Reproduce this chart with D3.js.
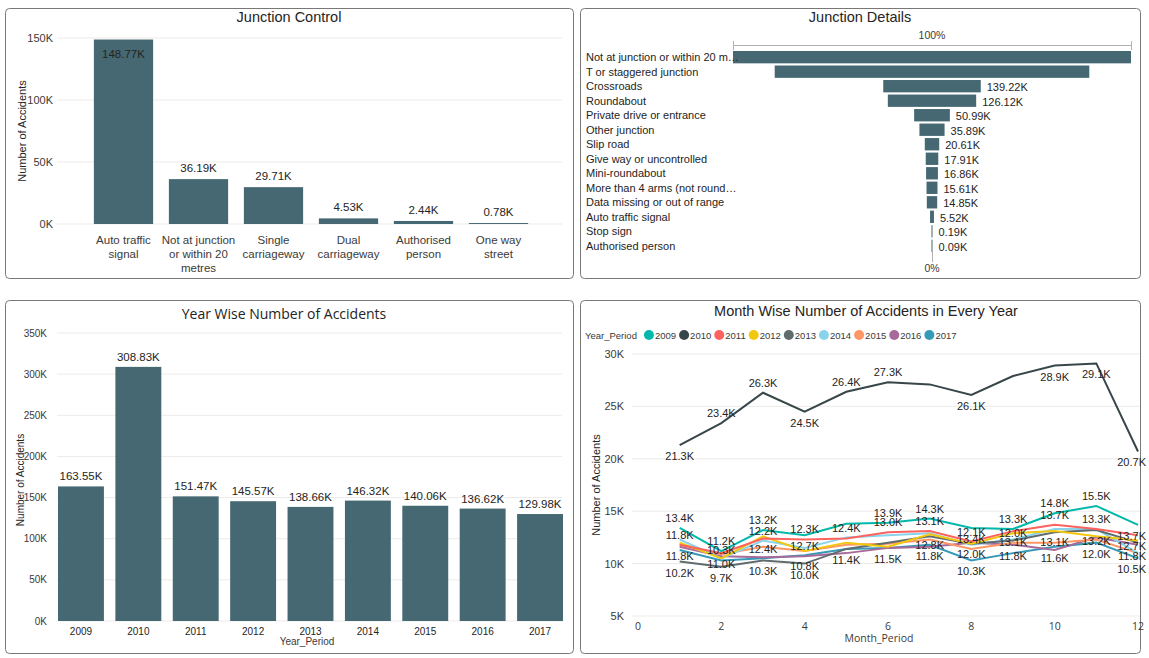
<!DOCTYPE html>
<html><head><meta charset="utf-8">
<script src="https://cdn.jsdelivr.net/npm/d3@7"></script>
<style>
body{margin:0;background:#fff;}
svg{display:block;}
text{font-family:"Liberation Sans",Arial,sans-serif;}
</style></head><body>
<svg id="c" width="1149" height="658"></svg>
<script>
// ---------- DATA ----------
const controlCategories = ["Auto traffic signal","Not at junction or within 20 metres","Single carriageway","Dual carriageway","Authorised person","One way street"];
const controlValues = [148.77,36.19,29.71,4.53,2.44,0.78];
const controlTicks = [0,50,100,150];

const detailCategories = ["Not at junction or within 20 metres","T or staggered junction","Crossroads","Roundabout","Private drive or entrance","Other junction","Slip road","Give way or uncontrolled","Mini-roundabout","More than 4 arms (not roundabout)","Data missing or out of range","Auto traffic signal","Stop sign","Authorised person"];
const detailValues = [568.2,449.1,139.22,126.12,50.99,35.89,20.61,17.91,16.86,15.61,14.85,5.52,0.19,0.09];

const years = ["2009","2010","2011","2012","2013","2014","2015","2016","2017"];
const yearValues = [163.55,308.83,151.47,145.57,138.66,146.32,140.06,136.62,129.98];
const yearTicks = [0,50,100,150,200,250,300,350];

const months = [1,2,3,4,5,6,7,8,9,10,11,12];
const m2009 = [13.4,11.2,13.2,12.7,13.8,13.9,14.3,13.4,13.3,14.8,15.5,13.7];
const m2010 = [21.3,23.4,26.3,24.5,26.4,27.3,27.1,26.1,27.9,28.9,29.1,20.7];
const m2011 = [11.8,11.0,12.4,12.3,12.4,13.0,13.1,12.1,13.1,13.7,13.3,12.7];
const m2012 = [12.0,10.5,12.6,11.2,12.0,11.6,12.8,11.9,12.9,13.1,12.6,12.2];
const m2013 = [10.2,9.7,10.3,10.0,11.4,12.0,12.6,11.9,12.2,13.0,13.2,12.0];
const m2014 = [12.3,10.5,12.2,11.5,12.5,12.7,12.9,11.8,12.3,13.3,13.3,11.0];
const m2015 = [11.8,10.9,11.6,11.2,11.8,11.9,12.3,11.4,12.0,12.0,12.3,11.0];
const m2016 = [11.6,10.7,10.6,10.7,11.0,11.5,11.6,12.0,11.8,11.3,12.5,11.8];
const m2017 = [11.3,10.3,10.5,10.8,11.4,11.5,11.8,10.3,11.0,11.6,12.0,10.5];
const monthSeries = [m2009,m2010,m2011,m2012,m2013,m2014,m2015,m2016,m2017];
const seriesColors = ["#01B8AA","#374649","#FD625E","#F2C80F","#5F6B6D","#8AD4EB","#FE9666","#A66999","#3599B8"];
const monthTicksY = [5,10,15,20,25,30];
const monthTicksX = [0,2,4,6,8,10,12];
// which points carry a visible data label: [year, month, above(a)/below(b)]
const monthLabels = [
 ["2010",1,"b"],["2010",2,"a"],["2010",3,"a"],["2010",4,"b"],["2010",5,"a"],["2010",6,"a"],["2010",8,"b"],["2010",10,"b"],["2010",11,"b"],["2010",12,"b"],
 ["2009",1,"a"],["2011",1,"a"],["2015",1,"b"],["2013",1,"b"],
 ["2009",2,"a"],["2017",2,"a"],["2011",2,"b"],["2013",2,"b"],
 ["2009",3,"a"],["2014",3,"a"],["2011",3,"b"],["2013",3,"b"],
 ["2011",4,"a"],["2009",4,"b"],["2017",4,"b"],["2013",4,"b"],
 ["2011",5,"a"],["2017",5,"b"],
 ["2009",6,"a"],["2011",6,"a"],["2017",6,"b"],
 ["2009",7,"a"],["2011",7,"a"],["2012",7,"b"],["2017",7,"b"],
 ["2011",8,"a"],["2009",8,"b"],["2016",8,"b"],["2017",8,"b"],
 ["2009",9,"a"],["2015",9,"a"],["2011",9,"b"],["2016",9,"b"],
 ["2009",10,"a"],["2011",10,"a"],["2012",10,"b"],["2017",10,"b"],
 ["2009",11,"a"],["2011",11,"a"],["2013",11,"b"],["2017",11,"b"],
 ["2009",12,"b"],["2011",12,"b"],["2016",12,"b"],["2017",12,"b"]
];

// ---------- STYLE ----------
const BAR = "#456872";
const TXT = "#252423";
const AX = "#3b3a39";
const GRID = "#EDEBE9";
const svg = d3.select("#c");

[[5,8,568,270],[580,8,560,270],[5,300,568,353],[580,300,560,353]].forEach(p=>{
  svg.append("rect").attr("x",p[0]+0.5).attr("y",p[1]+0.5).attr("width",p[2]).attr("height",p[3])
    .attr("rx",4).attr("fill","#fff").attr("stroke","#7a7876").attr("stroke-width",1);
});

function title(x,y,t,fam,size){
  svg.append("text").attr("x",x).attr("y",y).attr("text-anchor","middle").attr("dominant-baseline","central")
   .attr("font-size",size||14.5).attr("fill",TXT).style("font-family",fam||null).text(t);
}
const fmtK = v => (Math.round(v*100)/100).toFixed(2)+"K";

// ---------- CHART 1: Junction Control ----------
(function(){
  title(289,17,"Junction Control");
  const y = d3.scaleLinear().domain([0,150]).range([224,38]);
  const x = d3.scaleBand().domain(controlCategories).range([86,536]).paddingInner(0.21).paddingOuter(0.105);
  const g = svg.append("g");
  controlTicks.forEach(t=>{
    g.append("line").attr("x1",57).attr("x2",562).attr("y1",y(t)).attr("y2",y(t)).attr("stroke",GRID);
    g.append("text").attr("x",53).attr("y",y(t)).attr("text-anchor","end").attr("dominant-baseline","central")
      .attr("font-size",11).attr("fill",AX).text(t+"K");
  });
  g.append("text").attr("transform","translate(22,131) rotate(-90)").attr("text-anchor","middle")
    .attr("dominant-baseline","central").attr("font-size",11).attr("fill",TXT).text("Number of Accidents");
  controlCategories.forEach((c,i)=>{
    const v = controlValues[i];
    g.append("rect").attr("x",x(c)).attr("y",y(v)).attr("width",x.bandwidth()).attr("height",y(0)-y(v)).attr("fill",BAR);
    const inside = y(v)-20 < y(150);
    g.append("text").attr("x",x(c)+x.bandwidth()/2).attr("y",inside? y(v)+14 : y(v)-11)
      .attr("text-anchor","middle").attr("dominant-baseline","central").attr("font-size",11.5).attr("fill",TXT).text(fmtK(v));
    const t = g.append("text").attr("text-anchor","middle").attr("font-size",11.5).attr("fill",AX);
    const words = c.split(" "); let line=[]; let lines=[];
    const probe = g.append("text").attr("font-size",11.5);
    words.forEach(w=>{
      const test = line.concat([w]).join(" ");
      probe.text(test);
      if(probe.node().getComputedTextLength() > x.step() && line.length){ lines.push(line.join(" ")); line=[w]; }
      else line.push(w);
    });
    lines.push(line.join(" ")); probe.remove();
    lines.forEach((l,k)=>{
      t.append("tspan").attr("x",x(c)+x.bandwidth()/2).attr("y",240+k*14).attr("dominant-baseline","central").text(l);
    });
  });
})();

// ---------- CHART 2: Junction Details (funnel) ----------
(function(){
  title(860,17,"Junction Details");
  const cx = 932, half = 199;
  const w = d3.scaleLinear().domain([0,d3.max(detailValues)]).range([0,2*half]);
  const y = d3.scaleBand().domain(detailCategories).range([51,252]).paddingInner(0.15);
  const g = svg.append("g");
  g.append("text").attr("x",cx).attr("y",35).attr("text-anchor","middle").attr("dominant-baseline","central")
    .attr("font-size",10.5).attr("fill",AX).text("100%");
  g.append("line").attr("x1",cx-half).attr("x2",cx+half).attr("y1",45.5).attr("y2",45.5).attr("stroke","#b3b0ad");
  [cx-half,cx+half].forEach(xx=>g.append("line").attr("x1",xx+0.5).attr("x2",xx+0.5).attr("y1",41).attr("y2",50).attr("stroke","#b3b0ad"));
  g.append("line").attr("x1",cx+0.5).attr("x2",cx+0.5).attr("y1",252).attr("y2",262).attr("stroke","#b3b0ad");
  g.append("text").attr("x",cx).attr("y",268).attr("text-anchor","middle").attr("dominant-baseline","central")
    .attr("font-size",10.5).attr("fill",AX).text("0%");
  detailCategories.forEach((c,i)=>{
    const v = detailValues[i], bw = Math.max(w(v),1);
    const yc = y(c)+y.bandwidth()/2;
    g.append("rect").attr("x",cx-bw/2).attr("y",y(c)).attr("width",bw).attr("height",y.bandwidth()).attr("fill",BAR);
    const lab = g.append("text").attr("x",586).attr("y",yc).attr("dominant-baseline","central").attr("font-size",11).attr("fill",TXT).text(c);
    if(lab.node().getComputedTextLength()>153){
      let s=c; while(s.length && (lab.text(s+"…"), lab.node().getComputedTextLength()>153)) s=s.slice(0,-1);
    }
    const vt = g.append("text").attr("x",cx+bw/2+6).attr("y",yc+1).attr("dominant-baseline","central").attr("font-size",11).attr("fill",TXT).text(fmtK(v));
    if(cx+bw/2+6+vt.node().getComputedTextLength() > cx+half) vt.remove();
  });
})();

// ---------- CHART 3: Year wise ----------
(function(){
  title(284,313,"Year Wise Number of Accidents","'Open Sans'",14);
  const y = d3.scaleLinear().domain([0,350]).range([621,333]);
  const x = d3.scaleBand().domain(years).range([58,563]).paddingInner(0.2).paddingOuter(0);
  const g = svg.append("g");
  yearTicks.forEach(t=>{
    g.append("line").attr("x1",57).attr("x2",562).attr("y1",y(t)).attr("y2",y(t)).attr("stroke",GRID);
    g.append("text").attr("x",47).attr("y",y(t)).attr("text-anchor","end").attr("dominant-baseline","central")
      .attr("font-size",10).attr("fill",AX).text(t+"K");
  });
  g.append("text").attr("transform","translate(20,480) rotate(-90)").attr("text-anchor","middle")
    .attr("dominant-baseline","central").attr("font-size",10).attr("fill",TXT).text("Number of Accidents");
  years.forEach((yr,i)=>{
    const v=yearValues[i];
    g.append("rect").attr("x",x(yr)).attr("y",y(v)).attr("width",x.bandwidth()).attr("height",y(0)-y(v)).attr("fill",BAR);
    g.append("text").attr("x",x(yr)+x.bandwidth()/2).attr("y",y(v)-10).attr("text-anchor","middle").attr("dominant-baseline","central")
      .attr("font-size",11.5).attr("fill",TXT).text(fmtK(v));
    g.append("text").attr("x",x(yr)+x.bandwidth()/2).attr("y",631).attr("text-anchor","middle").attr("dominant-baseline","central")
      .attr("font-size",10).attr("fill",TXT).text(yr);
  });
  g.append("text").attr("x",307).attr("y",641).attr("text-anchor","middle").attr("dominant-baseline","central")
    .attr("font-size",10).attr("fill",AX).text("Year_Period");
})();

// ---------- CHART 4: Month wise ----------
(function(){
  title(866,311,"Month Wise Number of Accidents in Every Year");
  const y = d3.scaleLinear().domain([5,30]).range([616,354]);
  const x = d3.scaleLinear().domain([0,12]).range([638,1138]);
  const g = svg.append("g");
  let lx = 585;
  const lt = g.append("text").attr("x",lx).attr("y",335).attr("dominant-baseline","central").attr("font-size",9.5).attr("fill",AX)
    .text("Year_Period");
  lx += lt.node().getComputedTextLength()+12;
  years.forEach((yr,i)=>{
    g.append("circle").attr("cx",lx).attr("cy",335).attr("r",5).attr("fill",seriesColors[i]);
    const t = g.append("text").attr("x",lx+6).attr("y",335).attr("dominant-baseline","central").attr("font-size",9.5).attr("fill",AX)
      .text(yr);
    lx += 6 + t.node().getComputedTextLength() + 8;
  });
  monthTicksY.forEach(t=>{
    g.append("line").attr("x1",632).attr("x2",1140).attr("y1",y(t)).attr("y2",y(t)).attr("stroke",GRID);
    g.append("text").attr("x",624).attr("y",y(t)).attr("text-anchor","end").attr("dominant-baseline","central")
      .attr("font-size",11).attr("fill",AX).text(t+"K");
  });
  monthTicksX.forEach(t=>{
    g.append("text").attr("x",x(t)).attr("y",626).attr("text-anchor","middle").attr("dominant-baseline","central")
      .attr("font-size",10.5).attr("fill",AX).style("font-family","'Open Sans'").text(t);
  });
  g.append("text").attr("x",879).attr("y",638).attr("text-anchor","middle").attr("dominant-baseline","central")
    .attr("font-size",10.5).attr("fill",AX).style("font-family","'Open Sans'").text("Month_Period");
  g.append("text").attr("transform","translate(596,485) rotate(-90)").attr("text-anchor","middle")
    .attr("dominant-baseline","central").attr("font-size",11).attr("fill",TXT).text("Number of Accidents");
  const line = d3.line().x((d,i)=>x(months[i])).y(d=>y(d));
  const order = [8,7,6,5,4,3,2,0,1];
  order.forEach(i=>{
    g.append("path").attr("d",line(monthSeries[i])).attr("fill","none").attr("stroke",seriesColors[i]).attr("stroke-width",2);
  });
  monthLabels.forEach(([yr,m,side])=>{
    const v = monthSeries[years.indexOf(yr)][m-1];
    const px = x(m), py = y(v) + (side==="a"? -10 : 11);
    const t = g.append("text").attr("x",px).attr("y",py).attr("text-anchor","middle").attr("dominant-baseline","central")
      .attr("font-size",11).attr("fill",TXT).text(v.toFixed(1)+"K");
    const wdt = t.node().getComputedTextLength();
    if(px + wdt/2 > 1146) t.attr("text-anchor","end").attr("x",1146);
  });
})();
</script>
</body></html>
